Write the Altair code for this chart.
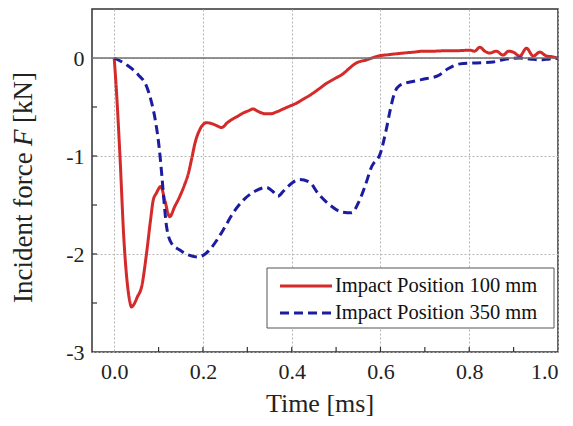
import altair as alt
import pandas as pd

# ---- data ----
series_names = ["Impact Position 100 mm", "Impact Position 350 mm"]

red_t = [0.000, 0.005, 0.013, 0.022, 0.030, 0.035, 0.039, 0.045, 0.052, 0.062, 0.073, 0.082,
         0.088, 0.095, 0.105, 0.114, 0.125, 0.136, 0.148, 0.158, 0.167, 0.175,
         0.182, 0.193, 0.208, 0.220, 0.231, 0.242, 0.255, 0.268, 0.280, 0.291,
         0.302, 0.313, 0.322, 0.332, 0.342, 0.351, 0.366, 0.381, 0.396, 0.411,
         0.426, 0.441, 0.460, 0.478, 0.497, 0.516, 0.531, 0.546, 0.568, 0.595,
         0.620, 0.651, 0.675, 0.696, 0.722, 0.749, 0.775, 0.801, 0.812, 0.824,
         0.835, 0.846, 0.861, 0.876, 0.889, 0.899, 0.914, 0.929, 0.944, 0.959,
         0.974, 0.990, 1.000]
red_f = [0.00, -0.33, -1.00, -1.86, -2.32, -2.48, -2.54, -2.51, -2.44, -2.33, -1.99, -1.65,
         -1.45, -1.38, -1.31, -1.45, -1.62, -1.52, -1.41, -1.30, -1.18, -1.02,
         -0.87, -0.73, -0.66, -0.67, -0.69, -0.71, -0.66, -0.62, -0.59, -0.56,
         -0.54, -0.52, -0.54, -0.56, -0.57, -0.57, -0.55, -0.52, -0.49, -0.46,
         -0.42, -0.38, -0.32, -0.26, -0.21, -0.16, -0.10, -0.05, -0.02, 0.02,
         0.035, 0.05, 0.06, 0.07, 0.07, 0.075, 0.075, 0.08, 0.07, 0.11,
         0.07, 0.05, 0.07, 0.03, 0.07, 0.06, 0.02, 0.10, 0.02, 0.06,
         0.02, 0.01, -0.01]

blue_t = [0.000, 0.028, 0.054, 0.073, 0.084, 0.094, 0.101, 0.107, 0.112, 0.118,
          0.129, 0.148, 0.167, 0.189, 0.205, 0.220, 0.234, 0.250, 0.268, 0.291,
          0.317, 0.343, 0.357, 0.369, 0.381, 0.392, 0.418, 0.441, 0.459, 0.486,
          0.512, 0.535, 0.550, 0.565, 0.580, 0.600, 0.613, 0.622, 0.630, 0.643,
          0.673, 0.704, 0.730, 0.752, 0.779, 0.816, 0.854, 0.884, 0.914, 0.937,
          0.959, 0.981, 1.000]
blue_f = [0.00, -0.07, -0.17, -0.29, -0.45, -0.67, -0.90, -1.18, -1.45, -1.72,
          -1.89, -1.96, -2.01, -2.03, -2.00, -1.93, -1.84, -1.72, -1.58, -1.45,
          -1.36, -1.32, -1.36, -1.41, -1.36, -1.31, -1.24, -1.27, -1.38, -1.50,
          -1.57, -1.58, -1.48, -1.31, -1.11, -0.97, -0.73, -0.53, -0.38, -0.28,
          -0.24, -0.21, -0.18, -0.11, -0.06, -0.05, -0.04, -0.01, 0.00, -0.01,
          -0.02, -0.01, 0.00]

x_ticks = [0.0, 0.2, 0.4, 0.6, 0.8, 1.0]
x_minor = [0.1, 0.2, 0.3, 0.4, 0.5, 0.6, 0.7, 0.8, 0.9]
y_ticks = [-3, -2, -1, 0]
y_minor = [-2.5, -2.0, -1.5, -1.0, -0.5]

colors = ["#d42a2a", "#1c1ca0"]
dashes = [[1, 0], [9, 5]]
FONT = "Liberation Serif"

df = pd.concat([
    pd.DataFrame({"t": red_t, "F": red_f, "series": series_names[0], "o": range(len(red_t))}),
    pd.DataFrame({"t": blue_t, "F": blue_f, "series": series_names[1], "o": range(len(blue_t))}),
])

xscale = alt.Scale(domain=[-0.05, 1.0], nice=False, zero=False)
yscale = alt.Scale(domain=[-3, 0.5], nice=False, zero=False)
x_axis = alt.Axis(values=x_ticks, format=".1f", title=None, labelPadding=9, grid=True)
y_axis = alt.Axis(values=y_ticks, labelExpr="'' + datum.value", title=None,
                  labelPadding=8, grid=True)

X = lambda: alt.X("t:Q", scale=xscale, axis=x_axis)
Y = lambda: alt.Y("F:Q", scale=yscale, axis=y_axis)

lines = alt.Chart(df).mark_line(strokeWidth=3, interpolate="monotone").encode(
    x=X(), y=Y(),
    color=alt.Color("series:N", scale=alt.Scale(domain=series_names, range=colors),
                    legend=None),
    strokeDash=alt.StrokeDash("series:N", scale=alt.Scale(domain=series_names, range=dashes),
                              legend=None),
    order="o:Q",
)

zero = alt.Chart(pd.DataFrame({"F": [0]})).mark_rule(color="#707070", strokeWidth=1.5).encode(
    y=Y()
)

xt = alt.Chart(pd.DataFrame({"t": x_minor})).mark_rule(color="#333", strokeWidth=1.2).encode(
    x=X(), y=alt.value(343), y2=alt.value(338)
)
yt = alt.Chart(pd.DataFrame({"F": y_minor})).mark_rule(color="#333", strokeWidth=1.2).encode(
    y=Y(), x=alt.value(0), x2=alt.value(5)
)

one = pd.DataFrame({"a": [0]})
xtitle = alt.Chart(one).mark_text(text="Time [ms]", font=FONT, fontSize=26, color="#222",
                                  align="center", baseline="alphabetic").encode(
    x=alt.value(228), y=alt.value(403))
yt1 = alt.Chart(one).mark_text(text="Incident force", font=FONT, fontSize=27, color="#222",
                               align="left", baseline="middle", angle=270).encode(
    x=alt.value(-68), y=alt.value(294))
yt2 = alt.Chart(one).mark_text(text="F", font=FONT, fontSize=27, fontStyle="italic",
                               color="#222", align="left", baseline="middle", angle=270).encode(
    x=alt.value(-68), y=alt.value(137))
yt3 = alt.Chart(one).mark_text(text="[kN]", font=FONT, fontSize=27, color="#222",
                               align="left", baseline="middle", angle=270).encode(
    x=alt.value(-68), y=alt.value(114))

# legend (box, line samples, labels)
leg_box = alt.Chart(one).mark_rect(fill="white", stroke="#555", strokeWidth=1).encode(
    x=alt.value(175), x2=alt.value(462), y=alt.value(259), y2=alt.value(319))
leg_layers = []
for name, c, d, yy in zip(series_names, colors, dashes, [277, 304]):
    leg_layers.append(
        alt.Chart(one).mark_rule(strokeWidth=3, color=c, strokeDash=d).encode(
            x=alt.value(188), x2=alt.value(240), y=alt.value(yy)))
    leg_layers.append(
        alt.Chart(one).mark_text(text=name, font=FONT, fontSize=20.5, color="#111",
                                 align="left", baseline="middle").encode(
            x=alt.value(243), y=alt.value(yy)))

chart = alt.layer(lines, zero, xt, yt, xtitle, yt1, yt2, yt3,
                  leg_box, *leg_layers).properties(
    width=466, height=343,
    autosize=alt.AutoSizeParams(type="none"),
    padding={"left": 84, "top": 1, "right": 7, "bottom": 66},
).configure_view(
    stroke="#333", strokeWidth=1.5
).configure_axis(
    labelFont=FONT, labelFontSize=22, labelColor="#222",
    ticks=False, domain=False,
    gridColor="#b5b5b5", gridDash=[2, 2], gridWidth=1,
)

chart.save("out.html", embed_options={"renderer": "svg", "actions": False})
